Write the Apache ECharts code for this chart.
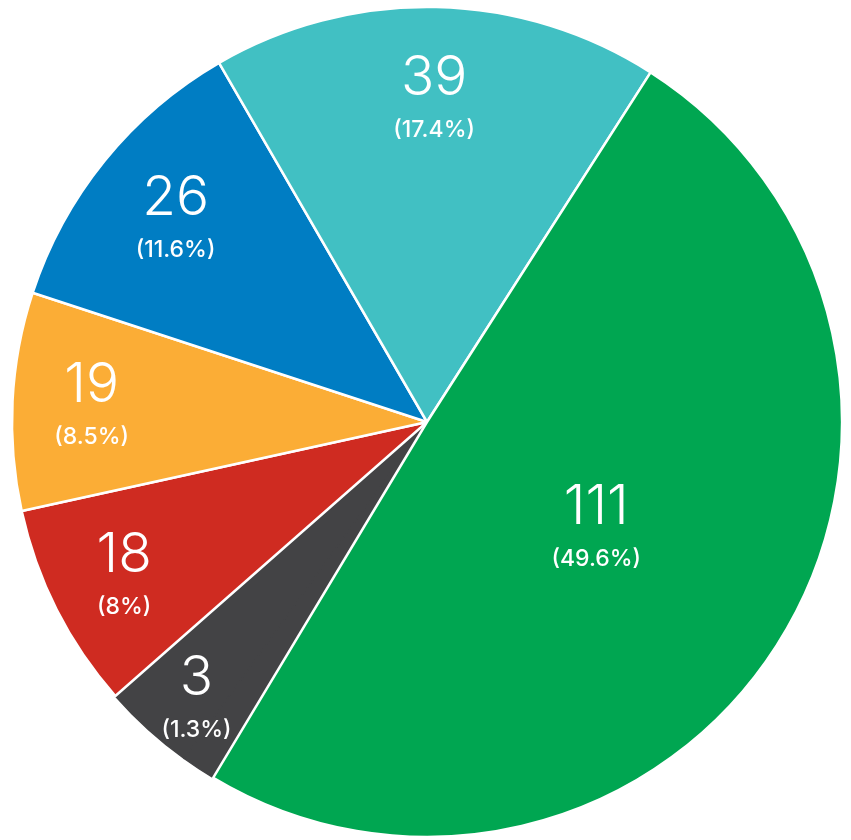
<!DOCTYPE html>
<html>
<head>
<meta charset="utf-8">
<script src="https://cdn.jsdelivr.net/npm/echarts@6/dist/echarts.min.js"></script>
<style>
  html, body { margin: 0; padding: 0; background: #ffffff; }
  #chart { width: 851px; height: 840px; }
</style>
</head>
<body>
<div id="chart"></div>
<script>
// Slice values, clockwise starting from the lower-left dark wedge
const values = [3, 8, 18, 19, 26, 39, 111];
// Which slices carry their own text label (the 8 shares the dark wedge with the 3)
const labelled = [true, false, true, true, true, true, true];
// Slice fills
const colors = ['#434345', '#434345', '#CF2B21', '#FBAD36', '#007DC3', '#41C0C3', '#00A651'];
// Slices joined without a white separator (outlined in their own fill instead)
const joined = [true, true, false, false, false, false, false];
// Range of slices each label is centred on (the dark wedge is two slices)
const labelSpan = [[0, 1], null, [2, 2], [3, 3], [4, 4], [5, 5], [6, 6]];
// Radial position of each label, as a fraction of the pie radius
const labelRadius = [0.867, 0, 0.818, 0.809, 0.78, 0.78, 0.48];

const CX = 427, CY = 422, R = 415, START_ANGLE = 239;
const FONT = 'Inter';
const total = values.reduce((s, v) => s + v, 0);

function pctText(v) {
  let t = (v / total * 100).toFixed(1);
  if (t.endsWith('.0')) t = t.slice(0, -2);
  return '(' + t + '%)';
}

function sum(arr) { return arr.reduce((s, v) => s + v, 0); }

const chart = echarts.init(document.getElementById('chart'), null, { renderer: 'canvas' });

const option = {
  animation: false,
  backgroundColor: '#ffffff',
  series: [{
    type: 'pie',
    center: [CX, CY],
    radius: R,
    startAngle: START_ANGLE,
    clockwise: true,
    avoidLabelOverlap: false,
    silent: true,
    emphasis: { disabled: true },
    labelLine: { show: false },
    itemStyle: { borderColor: '#ffffff', borderWidth: 2.5 },
    label: {
      show: true,
      position: 'inside',
      color: '#ffffff',
      fontFamily: FONT,
      formatter: p => '{n|' + p.value + '}\n{p|' + pctText(p.value) + '}',
      rich: {
        n: { fontSize: 55, fontWeight: 300, lineHeight: 64, color: '#ffffff', fontFamily: FONT, align: 'center' },
        p: { fontSize: 23, fontWeight: 500, lineHeight: 40, color: '#ffffff', fontFamily: FONT, align: 'center' }
      }
    },
    labelLayout: function (params) {
      const i = params.dataIndex;
      const span = labelSpan[i];
      if (!span) return {};
      const before = sum(values.slice(0, span[0]));
      const width = sum(values.slice(span[0], span[1] + 1));
      const theta = (-START_ANGLE + (before + width / 2) / total * 360) * Math.PI / 180;
      const d = labelRadius[i] * R;
      return {
        x: CX + d * Math.cos(theta),
        y: CY + d * Math.sin(theta),
        align: 'center',
        verticalAlign: 'middle'
      };
    },
    data: values.map((v, i) => ({
      value: v,
      itemStyle: joined[i]
        ? { color: colors[i], borderColor: colors[i], borderWidth: 1.5 }
        : { color: colors[i] },
      label: { show: labelled[i] }
    }))
  }]
};

chart.setOption(option);
</script>
</body>
</html>
